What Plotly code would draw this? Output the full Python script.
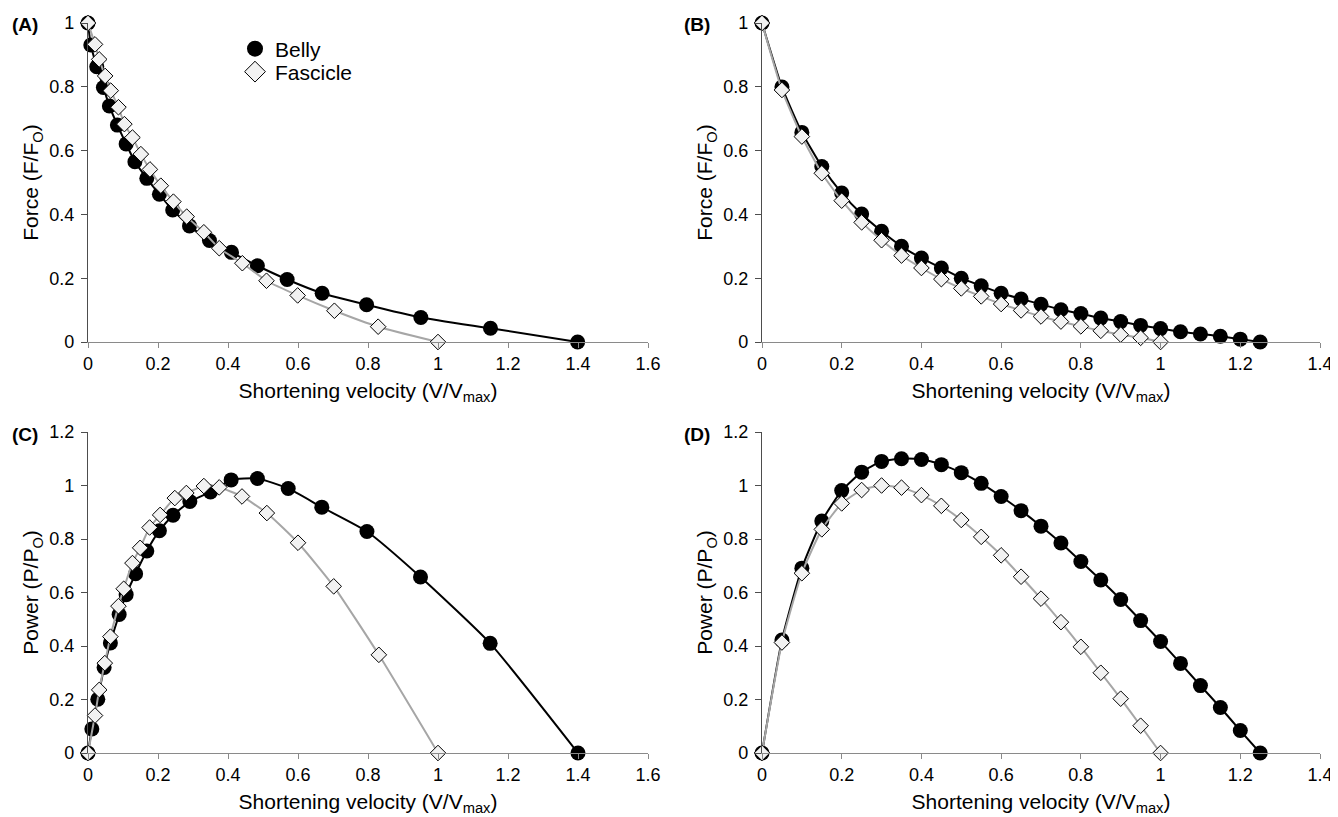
import plotly.graph_objects as go

# ---------------- data ----------------
# Panel A: force-velocity
a_belly_v = [0, 0.008, 0.025, 0.044, 0.061, 0.084, 0.109, 0.134, 0.168, 0.204, 0.242,
             0.290, 0.347, 0.410, 0.484, 0.569, 0.669, 0.796, 0.951, 1.150, 1.399]
a_belly_f = [1.0, 0.931, 0.863, 0.798, 0.740, 0.680, 0.621, 0.565, 0.513, 0.463, 0.414,
             0.364, 0.318, 0.281, 0.239, 0.196, 0.153, 0.117, 0.077, 0.043, 0.0]
a_fasc_v = [0, 0.020, 0.032, 0.049, 0.065, 0.087, 0.104, 0.127, 0.151, 0.177, 0.208,
            0.244, 0.282, 0.331, 0.375, 0.441, 0.510, 0.599, 0.704, 0.829, 1.0]
a_fasc_f = [1.0, 0.933, 0.886, 0.834, 0.788, 0.736, 0.683, 0.641, 0.589, 0.541, 0.490,
            0.440, 0.393, 0.344, 0.294, 0.247, 0.192, 0.146, 0.098, 0.048, 0.0]

# Panel B: force-velocity
b_belly_v = [0, 0.05, 0.1, 0.15, 0.2, 0.25, 0.3, 0.35, 0.4, 0.45, 0.5, 0.55, 0.6,
             0.65, 0.7, 0.75, 0.8, 0.85, 0.9, 0.95, 1.0, 1.05, 1.1, 1.15, 1.2, 1.25]
b_belly_f = [1.0, 0.799, 0.657, 0.550, 0.467, 0.401, 0.347, 0.300, 0.263, 0.232, 0.200,
             0.176, 0.153, 0.135, 0.118, 0.101, 0.089, 0.075, 0.064, 0.052, 0.042,
             0.032, 0.025, 0.018, 0.009, 0.0]
b_fasc_v = [0, 0.05, 0.1, 0.15, 0.2, 0.25, 0.3, 0.35, 0.4, 0.45, 0.5, 0.55, 0.6,
            0.65, 0.7, 0.75, 0.8, 0.85, 0.9, 0.95, 1.0]
b_fasc_f = [1.0, 0.790, 0.644, 0.529, 0.443, 0.375, 0.319, 0.271, 0.232, 0.197, 0.168,
            0.143, 0.119, 0.099, 0.080, 0.064, 0.049, 0.035, 0.023, 0.013, 0.0]

# Panel C: power-velocity
c_belly_v = [0, 0.011, 0.028, 0.046, 0.064, 0.089, 0.109, 0.136, 0.168, 0.204, 0.243,
             0.291, 0.350, 0.409, 0.484, 0.572, 0.668, 0.797, 0.950, 1.149, 1.40]
c_belly_p = [0, 0.090, 0.201, 0.320, 0.411, 0.518, 0.592, 0.670, 0.755, 0.831, 0.889,
             0.940, 0.976, 1.021, 1.026, 0.989, 0.919, 0.828, 0.658, 0.410, 0.0]
c_fasc_v = [0, 0.020, 0.032, 0.048, 0.064, 0.087, 0.102, 0.127, 0.149, 0.176, 0.206,
            0.248, 0.281, 0.331, 0.375, 0.440, 0.511, 0.600, 0.702, 0.831, 1.0]
c_fasc_p = [0, 0.140, 0.236, 0.336, 0.435, 0.549, 0.614, 0.710, 0.767, 0.843, 0.890,
            0.953, 0.972, 0.998, 0.993, 0.959, 0.897, 0.786, 0.623, 0.367, 0.0]

# Panel D: power-velocity
d_belly_v = [0, 0.05, 0.1, 0.15, 0.2, 0.25, 0.3, 0.35, 0.4, 0.45, 0.5, 0.55, 0.6,
             0.65, 0.7, 0.75, 0.8, 0.85, 0.9, 0.95, 1.0, 1.05, 1.1, 1.15, 1.2, 1.25]
d_belly_p = [0, 0.422, 0.691, 0.867, 0.981, 1.050, 1.090, 1.100, 1.097, 1.078, 1.048,
             1.008, 0.959, 0.906, 0.848, 0.785, 0.716, 0.647, 0.574, 0.495, 0.417,
             0.335, 0.252, 0.170, 0.084, 0.0]
d_fasc_v = [0, 0.05, 0.1, 0.15, 0.2, 0.25, 0.3, 0.35, 0.4, 0.45, 0.5, 0.55, 0.6,
            0.65, 0.7, 0.75, 0.8, 0.85, 0.9, 0.95, 1.0]
d_fasc_p = [0, 0.413, 0.672, 0.836, 0.933, 0.983, 1.000, 0.992, 0.964, 0.924, 0.871,
            0.808, 0.739, 0.659, 0.577, 0.489, 0.397, 0.300, 0.203, 0.102, 0.0]

panel_labels = ["(A)", "(B)", "(C)", "(D)"]
series_names = ["Belly", "Fascicle"]
x_title = "Shortening velocity (V/V<sub>max</sub>)"
y_titles = ["Force (F/F<sub>O</sub>)", "Power (P/P<sub>O</sub>)"]

# ---------------- layout geometry ----------------
# the page body adds an 8 px offset, so the figure is 8 px smaller and
# screen positions are converted with OFF
OFF = 8
W, H = 1338 - OFF, 817 - OFF
ML, MR, MT, MB = 88 - OFF, 1338 - 1320, 23 - OFF, 817 - 753
PW, PH = W - ML - MR, H - MT - MB


def px_x(px):
    """screen px -> paper x"""
    return (px - OFF - ML) / PW


def px_y(py):
    """screen px -> paper y"""
    return (H - MB - (py - OFF)) / PH


FONT = "Liberation Sans, Arial, sans-serif"
BELLY_COLOR = "black"
FASC_LINE = "#a6a6a6"
FASC_FILL = "#f2f2f2"

fig = go.Figure()

panels = [
    (a_belly_v, a_belly_f, a_fasc_v, a_fasc_f, "x", "y"),
    (b_belly_v, b_belly_f, b_fasc_v, b_fasc_f, "x2", "y2"),
    (c_belly_v, c_belly_p, c_fasc_v, c_fasc_p, "x3", "y3"),
    (d_belly_v, d_belly_p, d_fasc_v, d_fasc_p, "x4", "y4"),
]

for bv, bf, fv, ff, xa, ya in panels:
    fig.add_trace(go.Scatter(
        x=bv, y=bf, xaxis=xa, yaxis=ya, mode="lines+markers", showlegend=False,
        line=dict(color=BELLY_COLOR, width=2, shape="spline", smoothing=0.5),
        marker=dict(symbol="circle", size=15, color=BELLY_COLOR),
        cliponaxis=False, name=series_names[0]))
    fig.add_trace(go.Scatter(
        x=fv, y=ff, xaxis=xa, yaxis=ya, mode="lines+markers", showlegend=False,
        line=dict(color=FASC_LINE, width=2, shape="spline", smoothing=0.5),
        marker=dict(symbol="diamond", size=12, color=FASC_FILL,
                    line=dict(color="black", width=1)),
        cliponaxis=False, name=series_names[1]))

# legend entries (marker-only keys, as in the reference)
fig.add_trace(go.Scatter(x=[None], y=[None], mode="markers", name=series_names[0],
                         marker=dict(symbol="circle", size=16, color=BELLY_COLOR),
                         showlegend=True, legend="legend"))
fig.add_trace(go.Scatter(x=[None], y=[None], mode="markers", name=series_names[1],
                         marker=dict(symbol="diamond", size=16, color=FASC_FILL,
                                     line=dict(color="black", width=1)),
                         showlegend=True, legend="legend2"))

xdom_left = [0, px_x(648)]
xdom_right = [px_x(762), 1]
ydom_top = [px_y(342), 1]
ydom_bot = [0, px_y(432)]


def xaxis(dom, rng, anchor):
    return dict(domain=dom, range=rng, dtick=0.2, tick0=0, anchor=anchor,
                showline=True, linecolor="#8a8a8a", linewidth=1.3,
                ticks="outside", ticklen=5, tickcolor="#8a8a8a", tickwidth=1,
                showgrid=False, zeroline=False, automargin=False,
                tickfont=dict(family=FONT, size=18, color="black"),
                title=dict(text=x_title, font=dict(family=FONT, size=21, color="black"),
                           standoff=10))


def yaxis(dom, rng, anchor, title):
    return dict(domain=dom, range=rng, dtick=0.2, tick0=0, anchor=anchor,
                showline=True, linecolor="#4d4d4d", linewidth=1.3,
                ticks="outside", ticklen=6, tickcolor="#4d4d4d", tickwidth=1,
                ticklabelstandoff=3,
                showgrid=False, zeroline=False, automargin=False,
                tickfont=dict(family=FONT, size=18, color="black"),
                title=dict(text=title, font=dict(family=FONT, size=21, color="black"),
                           standoff=4))


legend_common = dict(xanchor="left", yanchor="middle", bgcolor="rgba(0,0,0,0)",
                     borderwidth=0, font=dict(family=FONT, size=21, color="black"),
                     itemsizing="trace")

fig.update_layout(
    width=W, height=H,
    margin=dict(l=ML, r=MR, t=MT, b=MB, pad=0),
    paper_bgcolor="white", plot_bgcolor="white",
    font=dict(family=FONT, color="black"),
    xaxis=xaxis(xdom_left, [0, 1.6], "y"),
    yaxis=yaxis(ydom_top, [0, 1], "x", y_titles[0]),
    xaxis2=xaxis(xdom_right, [0, 1.4], "y2"),
    yaxis2=yaxis(ydom_top, [0, 1], "x2", y_titles[0]),
    xaxis3=xaxis(xdom_left, [0, 1.6], "y3"),
    yaxis3=yaxis(ydom_bot, [0, 1.2], "x3", y_titles[1]),
    xaxis4=xaxis(xdom_right, [0, 1.4], "y4"),
    yaxis4=yaxis(ydom_bot, [0, 1.2], "x4", y_titles[1]),
    showlegend=True,
    legend=dict(x=px_x(235), y=px_y(49), **legend_common),
    legend2=dict(x=px_x(235), y=px_y(72), **legend_common),
)

label_pos = [(40, 25), (712, 25), (40, 434), (712, 434)]
for lab, (lx, ly) in zip(panel_labels, label_pos):
    fig.add_annotation(text="<b>%s</b>" % lab, xref="paper", yref="paper",
                       x=px_x(lx), y=px_y(ly), xanchor="right", yanchor="middle",
                       showarrow=False, font=dict(family=FONT, size=19, color="black"))

fig.write_html("out.html")
